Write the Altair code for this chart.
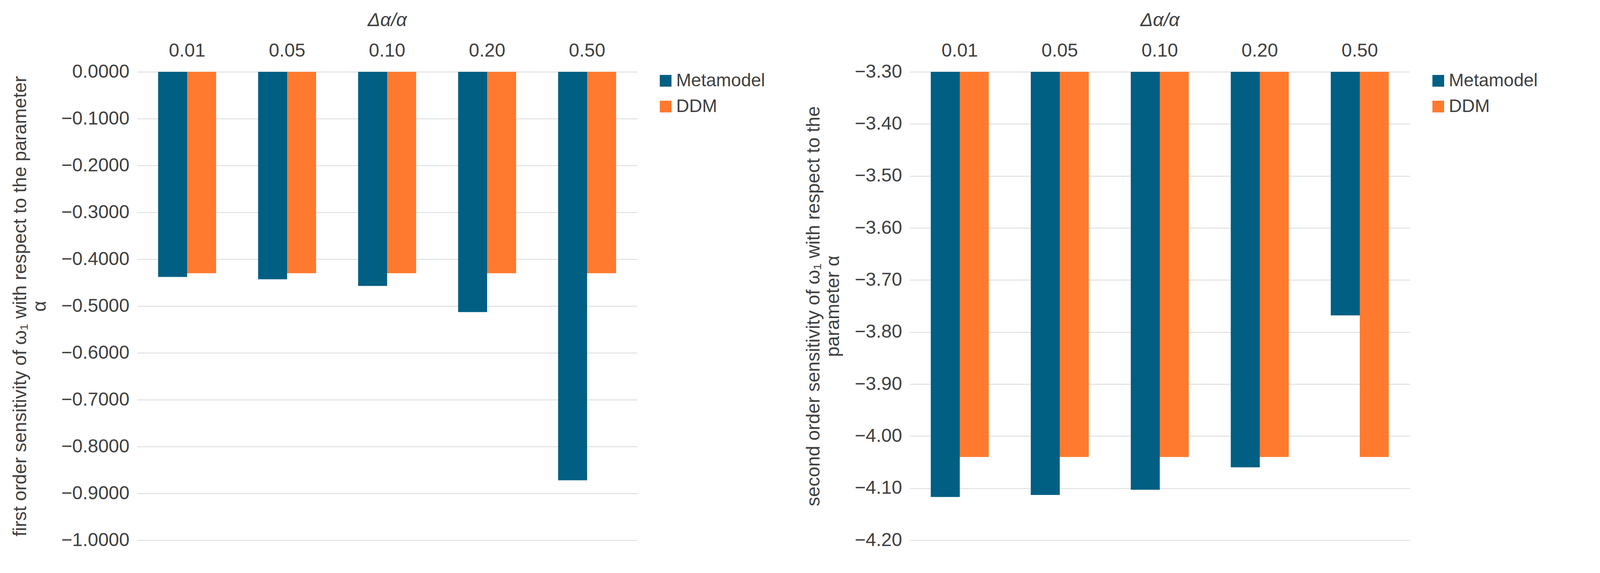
import pandas as pd
import altair as alt

ratios = ["0.01", "0.05", "0.10", "0.20", "0.50"]
series = ["Metamodel", "DDM"]
first_meta = [-0.438, -0.443, -0.457, -0.513, -0.872]
first_ddm = [-0.430, -0.430, -0.430, -0.430, -0.430]
second_meta = [-4.117, -4.113, -4.103, -4.060, -3.768]
second_ddm = [-4.040, -4.040, -4.040, -4.040, -4.040]
colors = ["#005F83", "#FF7A2E"]


def make_df(meta, ddm):
    rows = []
    for r, m, d in zip(ratios, meta, ddm):
        rows.append({"ratio": r, "series": "Metamodel", "value": m})
        rows.append({"ratio": r, "series": "DDM", "value": d})
    return pd.DataFrame(rows)


def panel(df, domain, base, fmt, step, title):
    ticks = [round(domain[0] + i * step, 4) for i in range(int(round((domain[1] - domain[0]) / step)) + 1)]
    return alt.Chart(df).mark_bar().encode(
        x=alt.X("ratio:N", sort=ratios, title="Δα/α",
                scale=alt.Scale(paddingInner=0.42, paddingOuter=0.21),
                axis=alt.Axis(orient="top", labelAngle=0, ticks=False, domain=False,
                              labelPadding=30, titlePadding=30, titleFontStyle="italic",
                              titleFontWeight="normal")),
        xOffset=alt.XOffset("series:N", sort=series),
        y=alt.Y("value:Q", title=title,
                scale=alt.Scale(domain=domain, zero=False, nice=False),
                axis=alt.Axis(format=fmt, values=ticks,
                              ticks=False, domain=False, labelPadding=20, titlePadding=30,
                              titleFontWeight="normal", gridColor="#d9d9d9", gridWidth=2)),
        y2=alt.datum(base),
        color=alt.Color("series:N", sort=series, title=None,
                        scale=alt.Scale(domain=series, range=colors),
                        legend=alt.Legend(symbolType="square", symbolSize=900,
                                          labelFontSize=46, orient="right", labelLimit=400,
                                          offset=50, rowPadding=20)),
    ).properties(width=1280, height=1200)


left = panel(make_df(first_meta, first_ddm), [-1.0, 0.0], 0.0, ".4f", 0.1,
             ["first order sensitivity of ω₁ with respect to the parameter", "α"])
right = panel(make_df(second_meta, second_ddm), [-4.2, -3.3], -3.3, ".2f", 0.1,
              ["second order sensitivity of ω₁ with respect to the", "parameter α"])

chart = alt.hconcat(left, right, spacing=100).resolve_scale(color="independent").resolve_legend(
    color="independent"
).configure_view(
    stroke=None
).configure_axis(
    labelFontSize=48, titleFontSize=48, labelColor="#404040", titleColor="#404040",
    labelFont="Liberation Sans", titleFont="Liberation Sans"
).configure_legend(labelFont="Liberation Sans", labelColor="#404040").properties(padding=20)

chart.save("out.html", embed_options={"renderer": "svg", "actions": False})
